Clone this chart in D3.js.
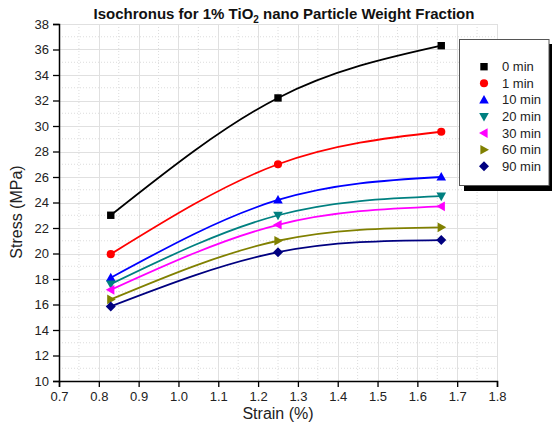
<!DOCTYPE html>
<html>
<head>
<meta charset="utf-8">
<script src="https://cdn.jsdelivr.net/npm/d3@7"></script>
<style>
  html, body { margin: 0; padding: 0; background: #fff; }
  svg { display: block; font-family: "Liberation Sans", Arial, sans-serif; }
</style>
</head>
<body>
<svg id="chart" width="552" height="435"></svg>
<script>
// Strain levels (%) at which stress was measured
const strain = [0.83, 1.25, 1.66];

// Isochronous stress values (MPa), one array per time
const series0min  = [23.0, 32.2, 36.3];
const series1min  = [19.95, 27.0, 29.55];
const series10min = [18.1, 24.2, 26.0];
const series20min = [17.6, 23.0, 24.5];
const series30min = [17.15, 22.25, 23.7];
const series60min = [16.4, 21.0, 22.05];
const series90min = [15.85, 20.1, 21.05];

const seriesNames = ["0 min", "1 min", "10 min", "20 min", "30 min", "60 min", "90 min"];
const seriesValues = [series0min, series1min, series10min, series20min, series30min, series60min, series90min];

const xTicks = [0.7, 0.8, 0.9, 1.0, 1.1, 1.2, 1.3, 1.4, 1.5, 1.6, 1.7, 1.8];
const yTicks = [10, 12, 14, 16, 18, 20, 22, 24, 26, 28, 30, 32, 34, 36, 38];

const colors = ["#000000", "#ff0000", "#0000ff", "#008080", "#ff00ff", "#808000", "#000080"];
const symbols = ["square", "circle", "triUp", "triDown", "triLeft", "triRight", "diamond"];

const svg = d3.select("#chart");
const x = d3.scaleLinear().domain([0.7, 1.8]).range([59, 497]);
const y = d3.scaleLinear().domain([10, 38]).range([381, 24]);

// Grid: minor dotted lines, then major solid lines
const grid = svg.append("g");
const xMinor = d3.range(0.75, 1.8, 0.1);
const yMinor = d3.range(11, 38, 2);
grid.selectAll(".xm").data(xMinor).join("line")
  .attr("x1", d => x(d)).attr("x2", d => x(d))
  .attr("y1", y(38)).attr("y2", y(10))
  .attr("stroke", "#dcdcdc").attr("stroke-width", 1).attr("stroke-dasharray", "1,2");
grid.selectAll(".ym").data(yMinor).join("line")
  .attr("x1", x(0.7)).attr("x2", x(1.8))
  .attr("y1", d => y(d)).attr("y2", d => y(d))
  .attr("stroke", "#dcdcdc").attr("stroke-width", 1).attr("stroke-dasharray", "1,2");
grid.selectAll(".xM").data(xTicks.slice(1)).join("line")
  .attr("x1", d => Math.round(x(d)) + 0.5).attr("x2", d => Math.round(x(d)) + 0.5)
  .attr("y1", y(38)).attr("y2", y(10))
  .attr("stroke", "#e0e0e0").attr("stroke-width", 1);
grid.selectAll(".yM").data(yTicks.slice(1)).join("line")
  .attr("x1", x(0.7)).attr("x2", x(1.8))
  .attr("y1", d => Math.round(y(d)) + 0.5).attr("y2", d => Math.round(y(d)) + 0.5)
  .attr("stroke", "#e0e0e0").attr("stroke-width", 1);

// Axes
const xAxis = svg.append("g").attr("transform", `translate(0,${y(10)})`);
xAxis.call(d3.axisBottom(x).tickValues(xMinor).tickSize(3).tickFormat(""));
xAxis.call(d3.axisBottom(x).tickValues(xTicks).tickSize(6).tickPadding(5).tickFormat(d3.format(".1f")));
const yAxis = svg.append("g").attr("transform", `translate(${x(0.7)},0)`);
yAxis.call(d3.axisLeft(y).tickValues(yMinor).tickSize(3).tickFormat(""));
yAxis.call(d3.axisLeft(y).tickValues(yTicks).tickSize(6).tickPadding(4).tickFormat(d3.format("d")));
svg.selectAll(".domain").attr("stroke", "#000").attr("stroke-width", 1.5);
svg.selectAll(".tick line").attr("stroke", "#000").attr("stroke-width", 1.3);
svg.selectAll(".tick text").attr("font-size", 13).attr("fill", "#222")
  .attr("font-family", "'Liberation Sans', Arial, sans-serif");

// Symbol paths centred on the origin
function symbolPath(kind) {
  switch (kind) {
    case "square": return "M-3.7,-3.7H3.7V3.7H-3.7Z";
    case "circle": return d3.symbol(d3.symbolCircle, 52)();
    case "triUp": return "M0,-5L4.8,3.6H-4.8Z";
    case "triDown": return "M0,5L4.8,-3.6H-4.8Z";
    case "triLeft": return "M-5,0L3.6,-4.8V4.8Z";
    case "triRight": return "M5,0L-3.6,-4.8V4.8Z";
    case "diamond": return "M0,-5L5,0L0,5L-5,0Z";
  }
}

// Curves and markers
const line = d3.line().x(d => x(d[0])).y(d => y(d[1])).curve(d3.curveNatural);
seriesValues.forEach((vals, i) => {
  const pts = strain.map((s, j) => [s, vals[j]]);
  svg.append("path").datum(pts)
    .attr("d", line).attr("fill", "none")
    .attr("stroke", colors[i]).attr("stroke-width", 1.8);
  svg.append("g").selectAll("path").data(pts).join("path")
    .attr("d", symbolPath(symbols[i]))
    .attr("transform", d => `translate(${x(d[0])},${y(d[1])})`)
    .attr("fill", colors[i]);
});

// Title with subscript
const title = svg.append("text").attr("x", 284).attr("y", 19)
  .attr("text-anchor", "middle").attr("font-size", 15).attr("font-weight", "bold").attr("fill", "#111");
title.append("tspan").text("Isochronus for 1% TiO");
title.append("tspan").attr("font-size", 10).attr("dy", 4).text("2");
title.append("tspan").attr("dy", -4).text(" nano Particle Weight Fraction");

// Axis titles
svg.append("text").attr("x", 278).attr("y", 419).attr("text-anchor", "middle")
  .attr("font-size", 16).attr("fill", "#222").text("Strain (%)");
svg.append("text").attr("transform", "translate(22,212) rotate(-90)").attr("text-anchor", "middle")
  .attr("font-size", 16).attr("fill", "#222").text("Stress (MPa)");

// Legend with drop shadow
const legend = svg.append("g");
legend.append("rect").attr("x", 464).attr("y", 44).attr("width", 90).attr("height", 147).attr("fill", "#000");
legend.append("rect").attr("x", 459.5).attr("y", 39.5).attr("width", 89.5).attr("height", 146)
  .attr("fill", "#fff").attr("stroke", "#555").attr("stroke-width", 1);
seriesNames.forEach((name, i) => {
  const ly = 66.7 + i * 16.6;
  legend.append("path").attr("d", symbolPath(symbols[i]))
    .attr("transform", `translate(484,${ly})`).attr("fill", colors[i]);
  legend.append("text").attr("x", 502).attr("y", ly + 4.5)
    .attr("font-size", 13).attr("fill", "#222").text(name);
});
</script>
</body>
</html>
